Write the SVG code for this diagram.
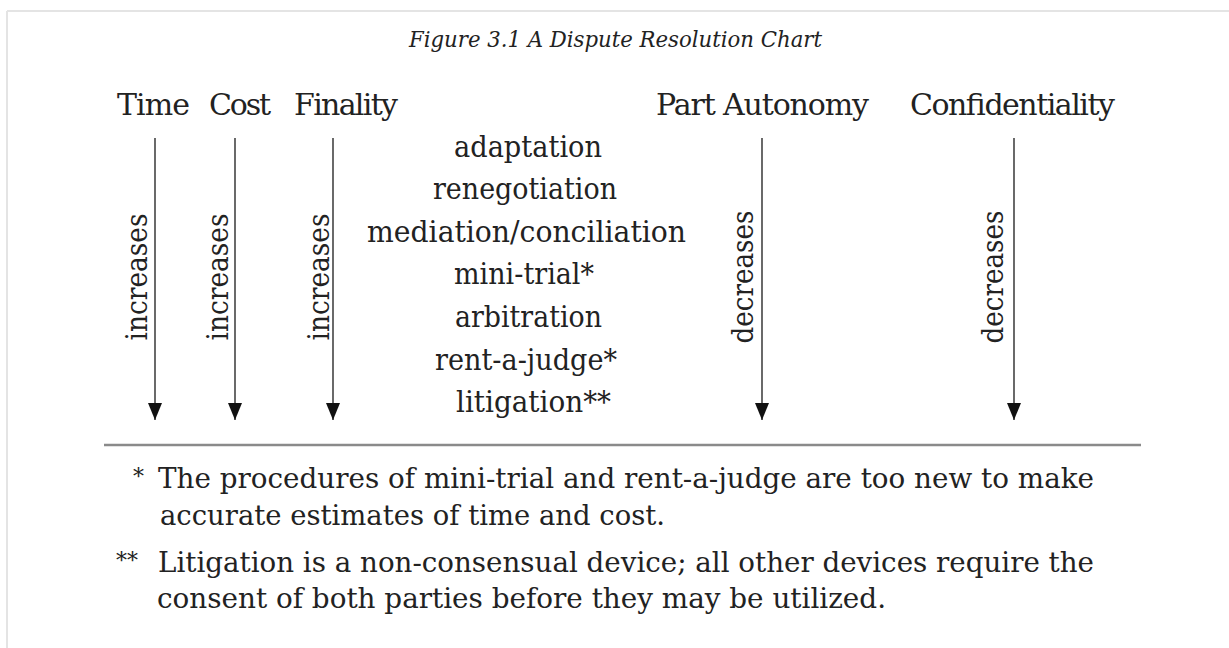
<svg xmlns="http://www.w3.org/2000/svg" width="1229" height="648" viewBox="0 0 1229 648">
  <style>
    text { font-family: "DejaVu Serif", "Liberation Serif", serif; fill: #222; }
    .title { font-size: 22px; font-style: italic; }
    .head { font-size: 30px; }
    .item { font-size: 29px; }
    .vlab { font-size: 29px; text-anchor: middle; }
    .note { font-size: 28px; }
    .star { font-size: 22px; }
    .arrow { stroke: #444; stroke-width: 1.6; fill: none; marker-end: url(#head); }
    .frame { stroke: #e4e4e4; stroke-width: 2; fill: none; }
  </style>
  <defs>
    <marker id="head" markerUnits="userSpaceOnUse" viewBox="0 0 17 14" markerWidth="17" markerHeight="14" refX="17" refY="7" orient="auto">
      <path d="M0,0 L17,7 L0,14 Z" fill="#111"/>
    </marker>
  </defs>
  <rect width="1229" height="648" fill="#fff"/>
  <g id="frame">
    <line class="frame" x1="7" y1="11" x2="1229" y2="11"/>
    <line class="frame" x1="7" y1="11" x2="7" y2="648"/>
  </g>

  <g id="title"><text class="title" x="409" y="47" textLength="413" lengthAdjust="spacingAndGlyphs">Figure 3.1 A Dispute Resolution Chart</text></g>

  <g id="header-time"><text class="head" x="117" y="115" textLength="73">Time</text></g>
  <g id="header-cost"><text class="head" x="209" y="115" textLength="62">Cost</text></g>
  <g id="header-finality"><text class="head" x="294" y="115" textLength="104">Finality</text></g>
  <g id="header-autonomy"><text class="head" x="656" y="115" textLength="213">Part Autonomy</text></g>
  <g id="header-confidentiality"><text class="head" x="910" y="115" textLength="205">Confidentiality</text></g>

  <g id="connectors">
    <line class="arrow" x1="155" y1="138" x2="155" y2="420"/>
    <line class="arrow" x1="235" y1="138" x2="235" y2="420"/>
    <line class="arrow" x1="333" y1="138" x2="333" y2="420"/>
    <line class="arrow" x1="762" y1="138" x2="762" y2="420"/>
    <line class="arrow" x1="1014" y1="138" x2="1014" y2="420"/>
  </g>

  <g id="label-time"><text class="vlab" transform="translate(147,277) rotate(-90)" textLength="127" lengthAdjust="spacingAndGlyphs">increases</text></g>
  <g id="label-cost"><text class="vlab" transform="translate(228,277) rotate(-90)" textLength="127" lengthAdjust="spacingAndGlyphs">increases</text></g>
  <g id="label-finality"><text class="vlab" transform="translate(329,277) rotate(-90)" textLength="127" lengthAdjust="spacingAndGlyphs">increases</text></g>
  <g id="label-autonomy"><text class="vlab" transform="translate(753,277) rotate(-90)" textLength="133" lengthAdjust="spacingAndGlyphs">decreases</text></g>
  <g id="label-confidentiality"><text class="vlab" transform="translate(1003,277) rotate(-90)" textLength="133" lengthAdjust="spacingAndGlyphs">decreases</text></g>

  <g id="items">
    <g id="item-adaptation"><text class="item" x="454" y="157" textLength="148" lengthAdjust="spacingAndGlyphs">adaptation</text></g>
    <g id="item-renegotiation"><text class="item" x="433" y="199" textLength="184" lengthAdjust="spacingAndGlyphs">renegotiation</text></g>
    <g id="item-mediation"><text class="item" x="367" y="242" textLength="319" lengthAdjust="spacingAndGlyphs">mediation/conciliation</text></g>
    <g id="item-minitrial"><text class="item" x="454" y="284" textLength="140" lengthAdjust="spacingAndGlyphs">mini-trial*</text></g>
    <g id="item-arbitration"><text class="item" x="455" y="327" textLength="147" lengthAdjust="spacingAndGlyphs">arbitration</text></g>
    <g id="item-rentajudge"><text class="item" x="435" y="370" textLength="182" lengthAdjust="spacingAndGlyphs">rent-a-judge*</text></g>
    <g id="item-litigation"><text class="item" x="456" y="412" textLength="155" lengthAdjust="spacingAndGlyphs">litigation**</text></g>
  </g>

  <g id="rule"><line x1="104" y1="445" x2="1141" y2="445" stroke="#8a8a8a" stroke-width="2.5"/></g>

  <g id="footnote-1">
    <text class="star" x="133" y="484">*</text>
    <text class="note" x="158" y="488" textLength="936" lengthAdjust="spacingAndGlyphs">The procedures of mini-trial and rent-a-judge are too new to make</text>
    <text class="note" x="160" y="525" textLength="505" lengthAdjust="spacingAndGlyphs">accurate estimates of time and cost.</text>
  </g>
  <g id="footnote-2">
    <text class="star" x="116" y="568">**</text>
    <text class="note" x="158" y="572" textLength="936" lengthAdjust="spacingAndGlyphs">Litigation is a non-consensual device; all other devices require the</text>
    <text class="note" x="157" y="608" textLength="729" lengthAdjust="spacingAndGlyphs">consent of both parties before they may be utilized.</text>
  </g>
</svg>
